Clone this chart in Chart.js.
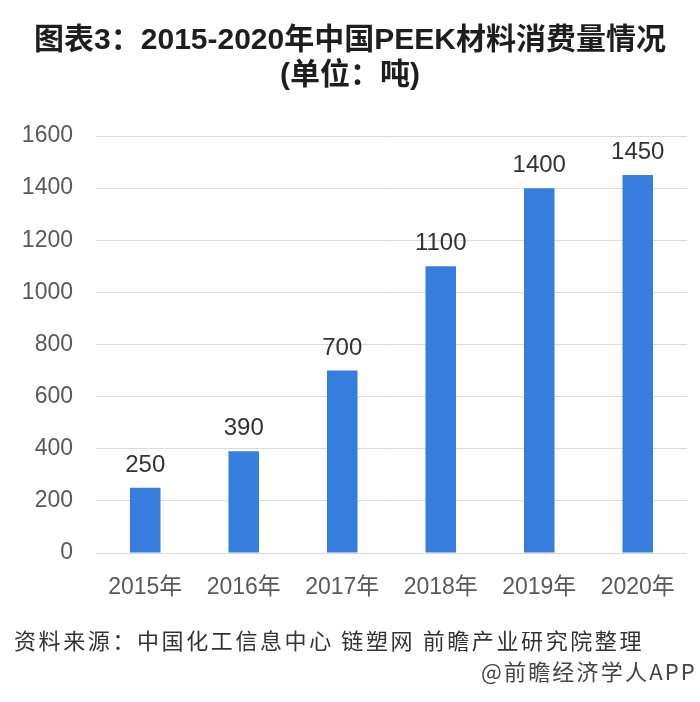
<!DOCTYPE html>
<html lang="zh-CN">
<head>
<meta charset="utf-8">
<title>2015-2020年中国PEEK材料消费量情况</title>
<script src="https://cdn.jsdelivr.net/npm/chart.js@4.4.1/dist/chart.umd.min.js"></script>
<style>
  html, body { margin: 0; padding: 0; background: #ffffff; }
  #wrap { width: 700px; height: 702px; position: relative; }
</style>
</head>
<body>
<div id="wrap"><canvas id="chart" width="700" height="702"></canvas></div>
<script>
// Chart data: PEEK consumption in China, tonnes
const categories = ['2015年', '2016年', '2017年', '2018年', '2019年', '2020年'];
const consumption = [250, 390, 700, 1100, 1400, 1450];
const yTickMin = 0;
const yTickMax = 1600;
const yTickStep = 200;

const titleLines = ['图表3：2015-2020年中国PEEK材料消费量情况', '(单位：吨)'];
const sourceText = '资料来源：中国化工信息中心 链塑网 前瞻产业研究院整理';
const creditText = '@前瞻经济学人APP';

const LATIN_CJK = '"Liberation Sans", "Noto Sans CJK SC", sans-serif';
const CJK = '"Noto Sans CJK SC", "Liberation Sans", sans-serif';

// Title, footer and value labels painted on the canvas
const decorPlugin = {
  id: 'decor',
  afterDatasetsDraw(chart) {
    const ctx = chart.ctx;
    const meta = chart.getDatasetMeta(0);
    ctx.save();
    ctx.fillStyle = '#333333';
    ctx.font = '24px ' + LATIN_CJK;
    ctx.textAlign = 'center';
    ctx.textBaseline = 'alphabetic';
    meta.data.forEach((bar, i) => {
      ctx.fillText(String(consumption[i]), bar.x, bar.y - 16);
    });
    ctx.restore();
  },
  afterDraw(chart) {
    const ctx = chart.ctx;
    ctx.save();
    ctx.fillStyle = '#1e1e1e';
    ctx.font = 'bold 30px ' + LATIN_CJK;
    ctx.textAlign = 'center';
    ctx.textBaseline = 'middle';
    ctx.fillText(titleLines[0], 350, 41);
    ctx.fillText(titleLines[1], 350, 76);

    ctx.fillStyle = '#333333';
    ctx.font = '22px ' + CJK;
    ctx.letterSpacing = '2.6px';
    ctx.textAlign = 'left';
    ctx.fillText(sourceText, 14, 641);

    ctx.fillStyle = '#444444';
    ctx.letterSpacing = '2.2px';
    ctx.textAlign = 'right';
    ctx.fillText(creditText, 697, 672);
    ctx.restore();
  }
};

new Chart(document.getElementById('chart'), {
  type: 'bar',
  data: {
    labels: categories,
    datasets: [{
      data: consumption,
      backgroundColor: '#377ddd',
      borderWidth: 0,
      barPercentage: 0.31,
      categoryPercentage: 1.0
    }]
  },
  options: {
    responsive: false,
    animation: false,
    events: [],
    layout: { padding: { top: 136, right: 13, left: 0, bottom: 0 } },
    plugins: {
      legend: { display: false },
      tooltip: { enabled: false },
      title: { display: false }
    },
    scales: {
      x: {
        grid: { display: false, drawTicks: false },
        border: { display: false },
        ticks: {
          color: '#595959',
          font: { family: LATIN_CJK, size: 23 },
          padding: 21,
          maxRotation: 0,
          autoSkip: false
        },
        afterFit(scale) { scale.height = 149; }
      },
      y: {
        min: yTickMin,
        max: yTickMax,
        grid: { color: '#d9d9d9', lineWidth: 1, drawTicks: false },
        border: { display: false },
        ticks: {
          stepSize: yTickStep,
          color: '#595959',
          font: { family: LATIN_CJK, size: 23 },
          padding: 23,
          callback: (value) => String(value)
        },
        afterFit(scale) { scale.width = 96; }
      }
    }
  },
  plugins: [decorPlugin]
});
</script>
</body>
</html>
